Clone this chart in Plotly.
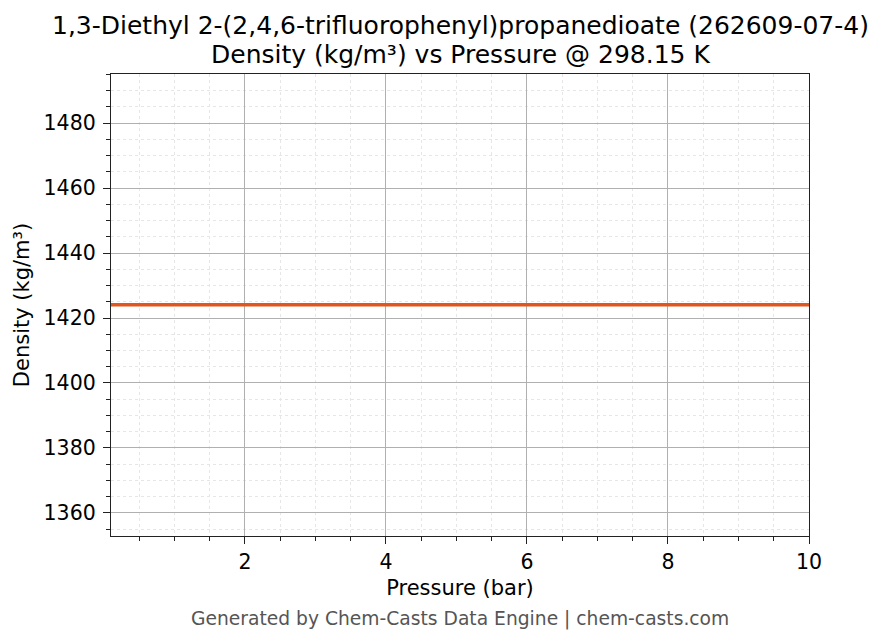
import plotly.graph_objects as go

# Density data (constant over the pressure range)
pressure_bar = [0.1, 1, 2, 3, 4, 5, 6, 7, 8, 9, 10]
density_kg_m3 = [1424.1, 1424.1, 1424.1, 1424.1, 1424.1, 1424.1, 1424.1, 1424.1, 1424.1, 1424.1, 1424.1]

x_ticks = [2, 4, 6, 8, 10]
y_ticks = [1360, 1380, 1400, 1420, 1440, 1460, 1480]

title_lines = [
    "1,3-Diethyl 2-(2,4,6-trifluorophenyl)propanedioate (262609-07-4)",
    "Density (kg/m³) vs Pressure @ 298.15 K",
]
footer = "Generated by Chem-Casts Data Engine | chem-casts.com"

FONT = "DejaVu Sans, sans-serif"

fig = go.Figure()
fig.add_trace(go.Scatter(
    x=pressure_bar,
    y=density_kg_m3,
    mode="lines",
    line=dict(color="#E0561F", width=3.5),
    showlegend=False,
))

axis_common = dict(
    showline=True,
    linecolor="#222222",
    linewidth=1.3,
    mirror=True,
    ticks="outside",
    ticklen=7,
    tickwidth=1.3,
    tickcolor="#222222",
    showgrid=True,
    gridcolor="#b0b0b0",
    gridwidth=1,
    zeroline=False,
    tickfont=dict(size=20.5, color="#000000"),
    title_font=dict(size=21, color="#000000"),
)

fig.update_xaxes(
    **axis_common,
    range=[0.1, 10],
    tickvals=x_ticks,
    title_text="Pressure (bar)",
    title_standoff=7,
    minor=dict(dtick=0.5, tick0=0, ticks="outside", ticklen=4, tickcolor="#222222",
               showgrid=True, gridcolor="#e6e6e6", griddash="dot", gridwidth=1),
)
fig.update_yaxes(
    **axis_common,
    range=[1352.9, 1495.1],
    tickvals=y_ticks,
    ticklabelstandoff=3,
    title_text="Density (kg/m³)",
    title_standoff=8,
    minor=dict(dtick=5, tick0=1350, ticks="outside", ticklen=4, tickcolor="#222222",
               showgrid=True, gridcolor="#e6e6e6", griddash="dot", gridwidth=1),
)

# page has an 8px body margin, so the figure is 8px smaller than the window
fig.update_layout(
    width=876,
    height=636,
    paper_bgcolor="#ffffff",
    plot_bgcolor="#ffffff",
    font=dict(family=FONT, color="#000000"),
    margin=dict(l=103, r=75, t=66, b=108),
    annotations=[
        dict(
            text=title_lines[0],
            xref="paper", yref="paper", x=0.5, y=1.104,
            xanchor="center", yanchor="middle", showarrow=False,
            font=dict(size=25, color="#000000", family=FONT),
        ),
        dict(
            text=title_lines[1],
            xref="paper", yref="paper", x=0.5, y=1.043,
            xanchor="center", yanchor="middle", showarrow=False,
            font=dict(size=25, color="#000000", family=FONT),
        ),
        dict(
            text=footer,
            xref="paper", yref="paper", x=0.5, y=-0.18,
            xanchor="center", yanchor="middle", showarrow=False,
            font=dict(size=18.7, color="#555555", family=FONT),
        ),
    ],
)

fig.write_html("out.html")
